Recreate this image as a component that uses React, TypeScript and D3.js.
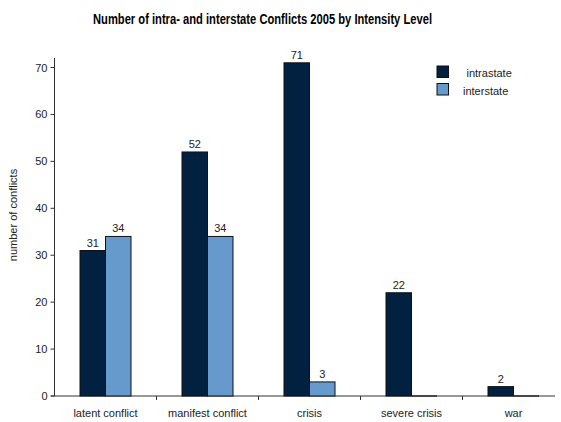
import React from "react";
import * as d3 from "d3";

const categories = ["latent conflict", "manifest conflict", "crisis", "severe crisis", "war"];
const seriesNames = ["intrastate", "interstate"];
const intrastate = [31, 52, 71, 22, 2];
const interstate = [34, 34, 3, 0, 0];
const yTicks = [0, 10, 20, 30, 40, 50, 60, 70];

const colors = ["#02203F", "#6699CC"];
const font = "'Liberation Sans', Arial, Helvetica, sans-serif";

export default function App() {
  const width = 561;
  const height = 422;
  const x0 = 54.5;
  const x1 = 564.5;
  const yBottom = 396;

  const x = d3.scaleBand<string>().domain(categories).range([x0, x1]).paddingInner(0).paddingOuter(0);
  const xs = d3.scaleBand<string>().domain(seriesNames).range([0, x.bandwidth() / 2]);
  const y = d3.scaleLinear().domain([0, 70]).range([yBottom, 67.5]);

  const series = [intrastate, interstate];
  const groupOffset = x.bandwidth() / 4;

  return (
    <svg width={width} height={height} style={{ position: "absolute", left: 0, top: 0, background: "#fff" }}>
      <text
        x={262.5}
        y={24}
        textAnchor="middle"
        fontFamily="'Liberation Sans Narrow', 'Arial Narrow', 'Liberation Sans', Arial, sans-serif"
        fontWeight="bold"
        fontSize={14.5}
        textLength={339}
        lengthAdjust="spacingAndGlyphs"
        fill="#000"
      >
        Number of intra- and interstate Conflicts 2005 by Intensity Level
      </text>

      {/* y axis */}
      <line x1={x0} x2={x0} y1={58} y2={yBottom} stroke="#333" strokeWidth={1} />
      {yTicks.map((t) => (
        <g key={t}>
          <line x1={x0 - 4} x2={x0} y1={y(t)} y2={y(t)} stroke="#333" />
          <text x={x0 - 7} y={y(t) + 4} textAnchor="end" fontFamily={font} fontSize={11} fill="#222">
            {t}
          </text>
        </g>
      ))}
      <text
        transform={`translate(17,${215}) rotate(-90)`}
        textAnchor="middle"
        fontFamily={font}
        fontSize={11}
        fill="#222"
      >
        number of conflicts
      </text>

      {/* x axis */}
      <line x1={51} x2={555} y1={yBottom} y2={yBottom} stroke="#333" />
      {categories.slice(1).map((c) => (
        <line key={c} x1={x(c)!} x2={x(c)!} y1={yBottom} y2={yBottom + 4} stroke="#333" />
      ))}
      {categories.map((c) => (
        <text
          key={c}
          x={x(c)! + x.bandwidth() / 2}
          y={417}
          textAnchor="middle"
          fontFamily={font}
          fontSize={11}
          fill="#222"
        >
          {c}
        </text>
      ))}

      {/* bars; zero values drawn as a flat outline on the baseline */}
      {categories.map((c, i) => (
        <g key={c}>
          {series.map((vals, s) => {
            const bx = x(c)! + groupOffset + xs(seriesNames[s])!;
            const v = vals[i];
            const top = y(v);
            return (
              <g key={s}>
                {v > 0 ? (
                  <rect
                    x={bx}
                    y={top}
                    width={xs.bandwidth()}
                    height={yBottom - top}
                    fill={colors[s]}
                    stroke="#111"
                    strokeWidth={1}
                  />
                ) : (
                  <line x1={bx} x2={bx + xs.bandwidth()} y1={yBottom} y2={yBottom} stroke="#111" strokeWidth={1.2} />
                )}
                {v > 0 && (
                  <text
                    x={bx + xs.bandwidth() / 2}
                    y={top - 4}
                    textAnchor="middle"
                    fontFamily={font}
                    fontSize={11}
                    fill="#222"
                  >
                    {v}
                  </text>
                )}
              </g>
            );
          })}
        </g>
      ))}

      {/* legend */}
      {seriesNames.map((n, i) => (
        <g key={n}>
          <rect x={437} y={66 + i * 17.5} width={11.5} height={11.5} fill={colors[i]} stroke="#111" />
          <text x={i === 0 ? 466.5 : 463} y={77 + i * 17.5} fontFamily={font} fontSize={11} fill="#222">
            {n}
          </text>
        </g>
      ))}
    </svg>
  );
}
